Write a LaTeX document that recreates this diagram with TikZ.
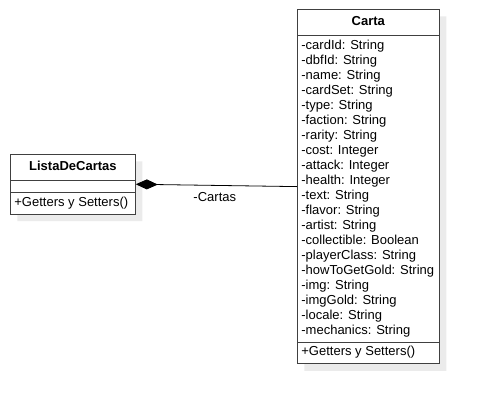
\documentclass[tikz,border=0pt]{standalone}
\usepackage{fontspec}
\setmainfont{Liberation Sans}
\usetikzlibrary{arrows.meta,
	shapes,
	shadows}

\newcommand\titlestrut{\rule[-6pt]{0pt}{19pt}}

\begin{document}
\begin{tikzpicture}[x=1pt,y=-1pt]
      \tikzstyle{umlclass}=[rectangle split,rectangle split parts=3,draw=black!75,line width=0.8pt,fill=white,
        rectangle split part align={center,left,left},align=left,
        inner xsep=4pt,inner ysep=3pt,rectangle split empty part height=5pt,
        font=\fontsize{13}{15}\selectfont,
        drop shadow={shadow xshift=7pt,shadow yshift=-7pt,fill=black!8,opacity=1}]
      \useasboundingbox (0,0) rectangle (479,405);
      \node[umlclass,minimum width=142pt,anchor=north west] (carta) at (297,9) {\textbf{Carta}\titlestrut
        \nodepart{two}\strut -cardId: String\\ \strut -dbfId: String\\ \strut -name: String\\
        \strut -cardSet: String\\ \strut -type: String\\ \strut -faction: String\\
        \strut -rarity: String\\ \strut -cost: Integer\\ \strut -attack: Integer\\
        \strut -health: Integer\\ \strut -text: String\\ \strut -flavor: String\\
        \strut -artist: String\\ \strut -collectible: Boolean\\ \strut -playerClass: String\\
        \strut -howToGetGold: String\\ \strut -img: String\\ \strut -imgGold: String\\
        \strut -locale: String\\ \strut -mechanics: String
        \nodepart{three}\strut +Getters y Setters()};
      \node[umlclass,minimum width=125pt,anchor=north west] (lista) at (10,154) {\textbf{ListaDeCartas}\titlestrut
        \nodepart{two}
        \nodepart{three}\strut +Getters y Setters()};
      \draw[black,line width=0.8pt,-{Diamond[length=22pt,width=10pt]}] (carta.west) --
        node[pos=0.51,below=7pt,inner sep=0pt,font=\fontsize{13}{15}\selectfont] (cartaslbl) {-Cartas} (lista.east);
\end{tikzpicture}
\end{document}
